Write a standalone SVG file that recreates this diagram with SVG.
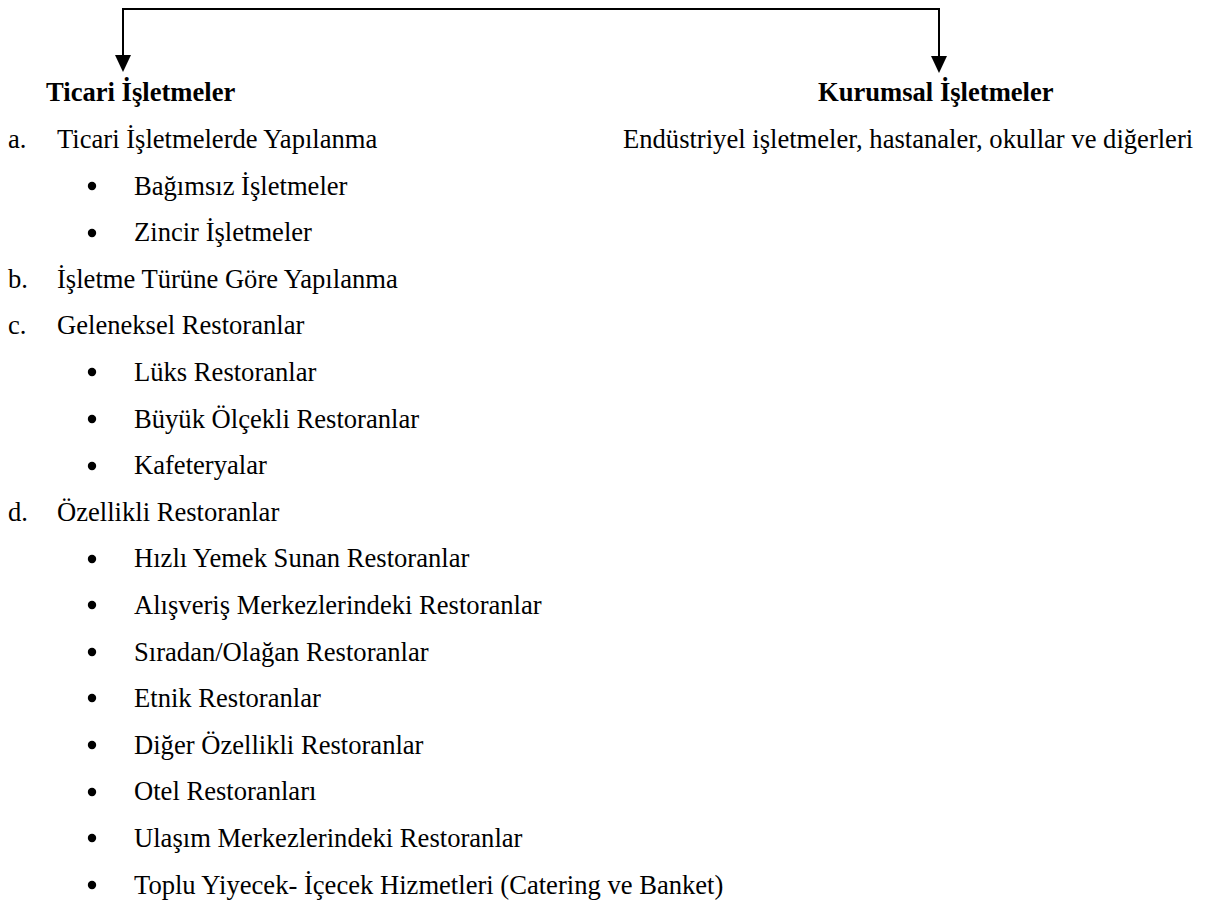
<svg xmlns="http://www.w3.org/2000/svg" width="1209" height="919" viewBox="0 0 1209 919">
  <style>
    text { font-family: "Liberation Serif", "Times New Roman", serif; font-size: 26.6px; fill: #000; }
    .head { font-weight: bold; }
    .bul { fill: #000; }
  </style>
  <rect width="1209" height="919" fill="#fff"/>

  <!-- connectors: top bracket branching to the two kinds of business -->
  <g id="connectors" fill="none" stroke="#000" stroke-width="2">
    <polyline points="123,56 123,9 939,9 939,57"/>
    <path d="M115,55 L131,55 L123,72 Z" fill="#000" stroke="none"/>
    <path d="M931,56 L947,56 L939,73 Z" fill="#000" stroke="none"/>
  </g>

  <g id="ticari">
    <text class="head" x="46" y="101">Ticari İşletmeler</text>
  </g>

  <g id="kurumsal">
    <text class="head" x="818" y="101">Kurumsal İşletmeler</text>
    <text x="623" y="148">Endüstriyel işletmeler, hastanaler, okullar ve diğerleri</text>
  </g>

  <g id="ticari-list">
    <text x="8" y="148">a.</text><text x="57" y="148">Ticari İşletmelerde Yapılanma</text>
    <circle class="bul" cx="92" cy="186" r="4.2"/><text x="134" y="195">Bağımsız İşletmeler</text>
    <circle class="bul" cx="92" cy="233" r="4.2"/><text x="134" y="241">Zincir İşletmeler</text>
    <text x="8" y="288">b.</text><text x="57" y="288">İşletme Türüne Göre Yapılanma</text>
    <text x="8" y="334">c.</text><text x="57" y="334">Geleneksel Restoranlar</text>
    <circle class="bul" cx="92" cy="372" r="4.2"/><text x="134" y="381">Lüks Restoranlar</text>
    <circle class="bul" cx="92" cy="419" r="4.2"/><text x="134" y="428">Büyük Ölçekli Restoranlar</text>
    <circle class="bul" cx="92" cy="466" r="4.2"/><text x="134" y="474">Kafeteryalar</text>
    <text x="8" y="521">d.</text><text x="57" y="521">Özellikli Restoranlar</text>
    <circle class="bul" cx="92" cy="559" r="4.2"/><text x="134" y="567">Hızlı Yemek Sunan Restoranlar</text>
    <circle class="bul" cx="92" cy="605" r="4.2"/><text x="134" y="614">Alışveriş Merkezlerindeki Restoranlar</text>
    <circle class="bul" cx="92" cy="652" r="4.2"/><text x="134" y="661">Sıradan/Olağan Restoranlar</text>
    <circle class="bul" cx="92" cy="698" r="4.2"/><text x="134" y="707">Etnik Restoranlar</text>
    <circle class="bul" cx="92" cy="745" r="4.2"/><text x="134" y="754">Diğer Özellikli Restoranlar</text>
    <circle class="bul" cx="92" cy="792" r="4.2"/><text x="134" y="800">Otel Restoranları</text>
    <circle class="bul" cx="92" cy="838" r="4.2"/><text x="134" y="847">Ulaşım Merkezlerindeki Restoranlar</text>
    <circle class="bul" cx="92" cy="885" r="4.2"/><text x="134" y="894">Toplu Yiyecek- İçecek Hizmetleri (Catering ve Banket)</text>
  </g>
</svg>
